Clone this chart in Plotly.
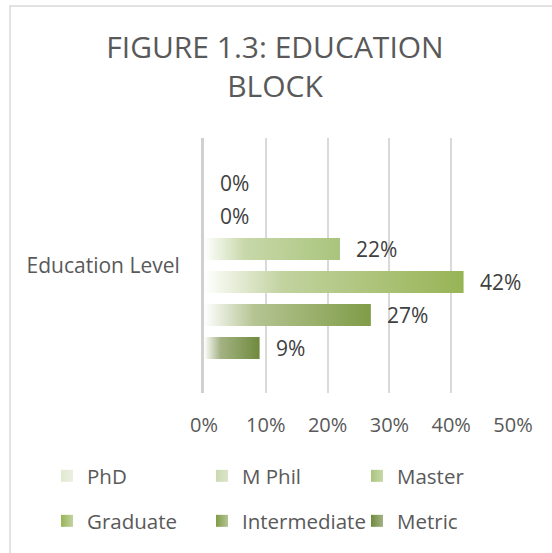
import plotly.graph_objects as go

# Data
category = "Education Level"
levels = ["PhD", "M Phil", "Master", "Graduate", "Intermediate", "Metric"]
shares = [0.00, 0.00, 0.22, 0.42, 0.27, 0.09]
x_ticks = [0.0, 0.1, 0.2, 0.3, 0.4, 0.5]

# gradient colours (white -> mid -> end), one per level
mid_colors = ["#ebf0e1", "#dbe5c9", "#c8d8aa", "#c2d3a0", "#b5c493", "#a3b283"]
end_colors = ["#e0e9d1", "#cbdab1", "#a9c47c", "#97b455", "#7f9c47", "#6f8a3e"]

FONT = "Open Sans"
GREY = "#595959"
W, H = 552, 553
L, R, T, B = 204, 39, 138, 160
PW, PH = W - L - R, H - T - B
half = 0.333  # half bar thickness, in slot units

fig = go.Figure()

for i, (name, v) in enumerate(zip(levels, shares)):
    if v > 0:
        fig.add_trace(go.Scatter(
            x=[0, v, v, 0, 0],
            y=[i - half, i - half, i + half, i + half, i - half],
            mode="lines",
            line=dict(width=0),
            fill="toself",
            fillgradient=dict(
                type="horizontal",
                colorscale=[[0, "#ffffff"], [0.3, mid_colors[i]], [1, end_colors[i]]],
            ),
            showlegend=False,
            hoverinfo="skip",
        ))
    fig.add_annotation(
        x=v, y=i, text=f"{v:.0%}",
        xanchor="left", xshift=14, showarrow=False,
        font=dict(family=FONT, size=21, color="#404040"),
    )

# legend entries, two rows of three
for i, name in enumerate(levels):
    fig.add_trace(go.Scatter(
        x=[None], y=[None],
        mode="markers",
        name=name,
        marker=dict(
            symbol="square", size=12, color=end_colors[i],
            gradient=dict(type="horizontal", color=mid_colors[i]),
            line=dict(width=0),
        ),
        legend="legend" if i < 3 else "legend2",
    ))

legend_common = dict(
    orientation="h",
    xref="paper", yref="paper",
    x=(47 - L) / PW, xanchor="left", yanchor="middle",
    entrywidthmode="pixels", entrywidth=110,
    font=dict(family=FONT, size=20.5, color=GREY),
    bgcolor="rgba(0,0,0,0)",
)

fig.update_layout(
    width=W, height=H,
    paper_bgcolor="white", plot_bgcolor="white",
    margin=dict(l=L, r=R, t=T, b=B),
    font=dict(family=FONT, color=GREY),
    title=dict(
        text="FIGURE 1.3: EDUCATION<br>BLOCK",
        x=275 / W, xref="container", xanchor="center",
        y=1 - 57.5 / H, yref="container", yanchor="middle",
        font=dict(family=FONT, size=30, color=GREY),
    ),
    legend=dict(legend_common, y=(H - B - 476) / PH),
    legend2=dict(legend_common, y=(H - B - 521) / PH),
    shapes=[dict(
        type="rect", xref="paper", yref="paper",
        x0=(10 - L) / PW, x1=3, y0=-3, y1=(H - B - 6) / PH,
        line=dict(color="#d9d9d9", width=1.5), layer="below",
    )],
)

fig.update_xaxes(
    range=[0, 0.5], tickvals=x_ticks, tickformat=".0%",
    showgrid=True, gridcolor="#d9d9d9", gridwidth=1.5,
    zeroline=False, showline=False, automargin=False,
    ticks="outside", ticklen=14, tickcolor="rgba(0,0,0,0)",
    tickfont=dict(family=FONT, size=20, color=GREY),
    fixedrange=True,
)
fig.update_yaxes(
    range=[5 + 1.36, -1.36],
    tickvals=[(len(levels) - 1) / 2], ticktext=[category],
    showgrid=False, zeroline=False, automargin=False,
    showline=True, linecolor="#d0d0d0", linewidth=3,
    ticks="outside", ticklen=17, tickcolor="rgba(0,0,0,0)",
    tickfont=dict(family=FONT, size=21, color=GREY),
    fixedrange=True,
)

# drop the page's default 8px body margin so the figure sits at the window's corner
fig.write_html(
    "out.html",
    config={"displayModeBar": False},
    post_script="document.body.style.margin = '0';",
)
